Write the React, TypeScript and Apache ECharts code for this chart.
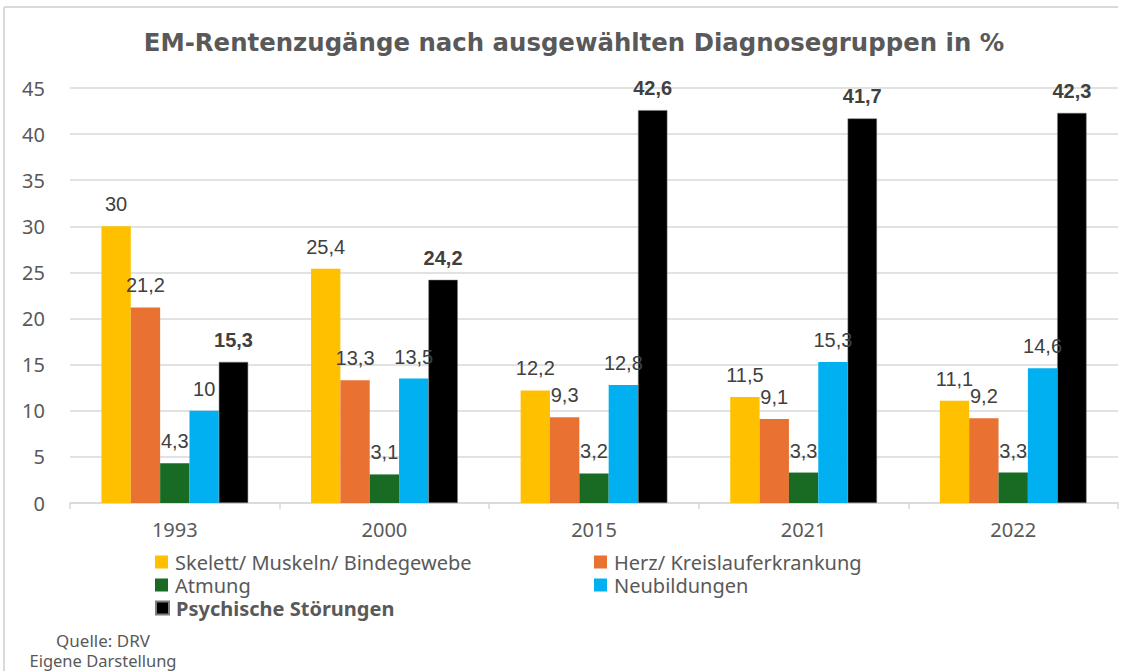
import React, { useEffect, useRef } from "react";
import * as echarts from "echarts";

const categories = ["1993", "2000", "2015", "2021", "2022"];
const seriesNames = [
  "Skelett/ Muskeln/ Bindegewebe",
  "Herz/ Kreislauferkrankung",
  "Atmung",
  "Neubildungen",
  "Psychische Störungen",
];
const skelett = [30, 25.4, 12.2, 11.5, 11.1];
const herz = [21.2, 13.3, 9.3, 9.1, 9.2];
const atmung = [4.3, 3.1, 3.2, 3.3, 3.3];
const neubildungen = [10, 13.5, 12.8, 15.3, 14.6];
const psychische = [15.3, 24.2, 42.6, 41.7, 42.3];
const colors = ["#FFC000", "#E97132", "#196B24", "#00B0F0", "#000000"];
const yTicks = [0, 5, 10, 15, 20, 25, 30, 35, 40, 45];

const LABEL_FONT = "'Liberation Sans', Arial, sans-serif";
const UI_FONT = "'Noto Sans', 'Open Sans', sans-serif";

export default function App() {
  const ref = useRef<HTMLDivElement>(null);
  useEffect(() => {
    if (!ref.current) return;
    const chart = echarts.init(ref.current, null, { renderer: "svg" });
    const allData = [skelett, herz, atmung, neubildungen, psychische];
    const legendPos = [
      { left: 155, top: 552 },
      { left: 594, top: 552 },
      { left: 155, top: 575 },
      { left: 594, top: 575 },
      { left: 155, top: 598 },
    ];
    chart.setOption({
      animation: false,
      backgroundColor: "#ffffff",
      grid: { left: 70, right: 22, top: 88, bottom: 168, containLabel: false },
      legend: seriesNames.map((n, i) => ({
        data: [n],
        left: legendPos[i].left,
        top: legendPos[i].top,
        padding: 0,
        itemWidth: 13,
        itemHeight: 13,
        itemGap: 0,
        icon: "rect",
        selectedMode: false,
        textStyle: {
          fontFamily: UI_FONT,
          fontSize: 20,
          lineHeight: 20,
          color: "#595959",
          fontWeight: i === 4 ? "bold" : "normal",
          padding: [0, 0, 0, 2],
        },
      })),
      xAxis: {
        type: "category",
        data: categories,
        axisLine: { show: true, lineStyle: { color: "#d9d9d9", width: 1.5 } },
        axisTick: { show: true, length: 6, lineStyle: { color: "#d9d9d9", width: 1.5 } },
        axisLabel: { fontFamily: UI_FONT, fontSize: 20, color: "#595959", margin: 16 },
      },
      yAxis: {
        type: "value",
        min: 0,
        max: 45,
        interval: 5,
        axisLine: { show: false },
        axisTick: { show: false },
        axisLabel: {
          fontFamily: UI_FONT,
          fontSize: 20,
          color: "#595959",
          margin: 25,
          formatter: (v: number) => (yTicks.includes(v) ? String(v) : ""),
        },
        splitLine: { lineStyle: { color: "#d9d9d9", width: 1.5 } },
      },
      graphic: [
        {
          type: "text",
          style: {
            text: "EM-Rentenzugänge nach ausgewählten Diagnosegruppen in %",
            x: 574,
            y: 42,
            align: "center",
            verticalAlign: "middle",
            fontFamily: "'DejaVu Sans', sans-serif",
            fontWeight: "bold",
            fontSize: 24.4,
            fill: "#595959",
          },
        },
        {
          type: "text",
          style: {
            text: "Quelle: DRV",
            x: 103,
            y: 640,
            align: "center",
            verticalAlign: "middle",
            fontFamily: UI_FONT,
            fontSize: 17,
            fill: "#595959",
          },
        },
        {
          type: "text",
          style: {
            text: "Eigene Darstellung",
            x: 103,
            y: 660,
            align: "center",
            verticalAlign: "middle",
            fontFamily: UI_FONT,
            fontSize: 16.5,
            fill: "#595959",
          },
        },
        {
          type: "line",
          shape: { x1: 4, y1: 7, x2: 1118, y2: 7 },
          style: { stroke: "#d9d9d9", lineWidth: 2 },
        },
        {
          type: "line",
          shape: { x1: 4, y1: 7, x2: 4, y2: 671 },
          style: { stroke: "#d9d9d9", lineWidth: 2 },
        },
      ],
      series: seriesNames.map((n, i) => ({
        name: n,
        type: "bar",
        data: allData[i],
        barGap: "0%",
        barCategoryGap: "30%",
        itemStyle: {
          color: colors[i],
          borderColor: i === 4 ? "#7f7f7f" : undefined,
          borderWidth: i === 4 ? 0.5 : 0,
        },
        label: {
          show: true,
          position: "top",
          distance: 12,
          fontFamily: LABEL_FONT,
          fontSize: 20,
          color: "#404040",
          fontWeight: i === 4 ? "bold" : "normal",
          formatter: (p: any) => String(p.value).replace(".", ","),
        },
      })),
    });
    return () => chart.dispose();
  }, []);
  return <div ref={ref} style={{ width: 1140, height: 671, position: "absolute", left: 0, top: 0 }} />;
}
